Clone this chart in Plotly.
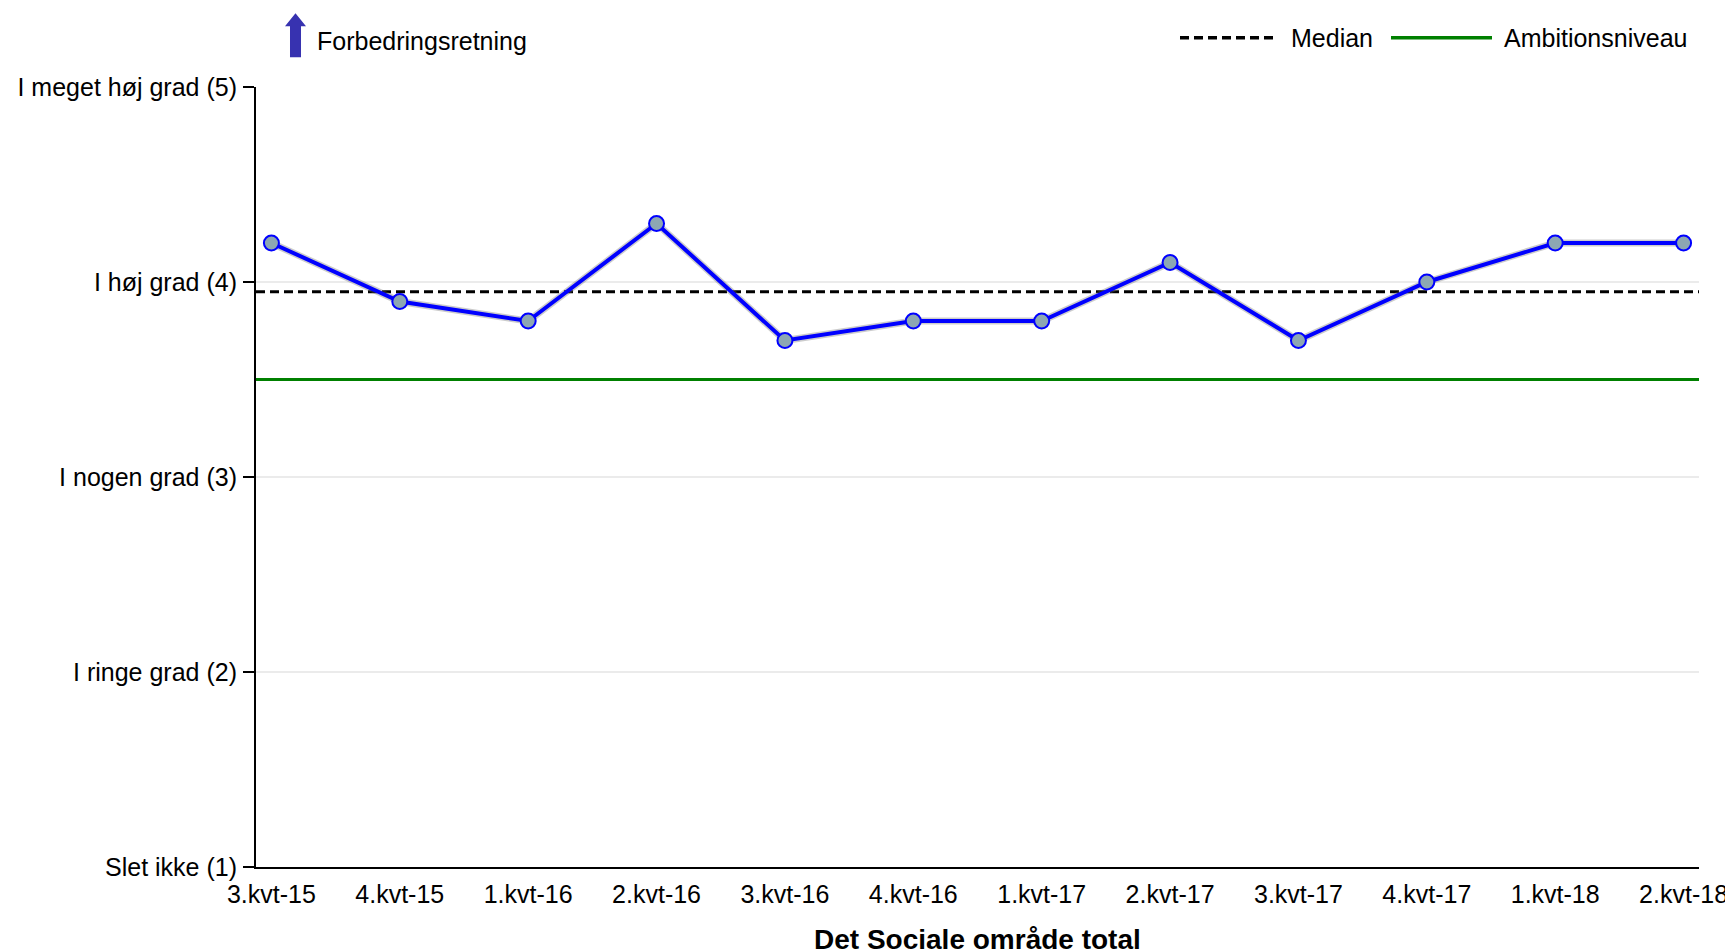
import plotly.graph_objects as go

categories = ["3.kvt-15", "4.kvt-15", "1.kvt-16", "2.kvt-16", "3.kvt-16", "4.kvt-16",
              "1.kvt-17", "2.kvt-17", "3.kvt-17", "4.kvt-17", "1.kvt-18", "2.kvt-18"]
values = [4.2, 3.9, 3.8, 4.3, 3.7, 3.8, 3.8, 4.1, 3.7, 4.0, 4.2, 4.2]
median_value = 3.95
ambition_value = 3.5
y_tickvals = [1, 2, 3, 4, 5]
y_ticktext = ["Slet ikke (1)", "I ringe grad (2)", "I nogen grad (3)", "I høj grad (4)", "I meget høj grad (5)"]
x_title = "Det Sociale område total"
legend_labels = ["Median", "Ambitionsniveau"]
direction_label = "Forbedringsretning"

W, H = 1733, 952
OX, OY = 8, 8  # default page body margin
# target plot box in screen pixels
LEFT, RIGHT, TOP, BOTTOM = 256, 1699, 86.7, 866.7
ML = LEFT - OX
MR = W - (RIGHT - OX)
MT = TOP - OY
MB = H - (BOTTOM - OY)
PW, PH = RIGHT - LEFT, BOTTOM - TOP
FONT = "Liberation Sans, Arial, sans-serif"
XR = [-0.12, 11.12]
DASH = "9px,5px"


def px(x):
    return (x - LEFT) / PW


def py(y):
    return (BOTTOM - y) / PH


n = len(categories)
idx = list(range(n))

fig = go.Figure()

fig.add_trace(go.Scatter(
    x=[XR[0]] + idx + [XR[1]], y=[median_value] * (n + 2), mode="lines",
    line=dict(color="black", width=3, dash=DASH), showlegend=False, hoverinfo="skip"))
fig.add_trace(go.Scatter(
    x=[XR[0]] + idx + [XR[1]], y=[ambition_value] * (n + 2), mode="lines",
    line=dict(color="#008000", width=3), showlegend=False, hoverinfo="skip"))

# soft shadow under the series line
fig.add_trace(go.Scatter(
    x=idx, y=values, mode="lines",
    line=dict(color="rgba(110,110,110,0.35)", width=7), showlegend=False, hoverinfo="skip"))
fig.add_trace(go.Scatter(
    x=idx, y=values, mode="lines+markers",
    line=dict(color="#0000FF", width=4),
    marker=dict(size=15, color="#8DA7B3", line=dict(color="#0000FF", width=2)),
    showlegend=False))

fig.update_xaxes(
    range=XR, tickmode="array", tickvals=idx, automargin=False,
    ticktext=categories, showline=True, linecolor="black", linewidth=2,
    showgrid=False, zeroline=False, ticks="", ticklabelstandoff=4,
    tickfont=dict(family=FONT, size=25, color="black"))
fig.update_yaxes(
    range=[1, 5], tickmode="array", tickvals=y_tickvals, ticktext=y_ticktext,
    automargin=False,
    showline=True, linecolor="black", linewidth=2, ticks="outside", ticklen=11,
    tickcolor="black", tickwidth=2, ticklabelstandoff=1,
    showgrid=True, gridcolor="#ebebeb", gridwidth=2, zeroline=False,
    tickfont=dict(family=FONT, size=25, color="black"))

shapes = []
# improvement-direction arrow
pts = [(290, 57), (301, 57), (301, 26), (306, 26), (295.5, 13), (285, 26), (290, 26)]
path = "M " + " L ".join(f"{px(a):.5f},{py(b):.5f}" for a, b in pts) + " Z"
shapes.append(dict(type="path", xref="paper", yref="paper", path=path,
                   fillcolor="#3732B0", line=dict(width=0)))
# manual legend
shapes.append(dict(type="line", xref="paper", yref="paper", x0=px(1180), x1=px(1277),
                   y0=py(37.5), y1=py(37.5), line=dict(color="black", width=3.5, dash=DASH)))
shapes.append(dict(type="line", xref="paper", yref="paper", x0=px(1391), x1=px(1492),
                   y0=py(37.5), y1=py(37.5), line=dict(color="#008000", width=3.5)))

annotations = [
    dict(text=direction_label, xref="paper", yref="paper", x=px(315), y=py(41),
         xanchor="left", yanchor="middle", showarrow=False,
         font=dict(family=FONT, size=25, color="black")),
    dict(text=legend_labels[0], xref="paper", yref="paper", x=px(1289), y=py(37.5),
         xanchor="left", yanchor="middle", showarrow=False,
         font=dict(family=FONT, size=25, color="black")),
    dict(text=legend_labels[1], xref="paper", yref="paper", x=px(1502), y=py(37.5),
         xanchor="left", yanchor="middle", showarrow=False,
         font=dict(family=FONT, size=25, color="black")),
    dict(text="<b>" + x_title + "</b>", xref="paper", yref="paper", x=0.5, y=py(939),
         xanchor="center", yanchor="middle", showarrow=False,
         font=dict(family=FONT, size=28, color="black")),
]

fig.update_layout(
    width=W, height=H, margin=dict(l=ML, r=MR, t=MT, b=MB, pad=0, autoexpand=False),
    paper_bgcolor="white", plot_bgcolor="white", showlegend=False,
    shapes=shapes, annotations=annotations,
    font=dict(family=FONT, color="black"))

fig.write_html("out.html")
